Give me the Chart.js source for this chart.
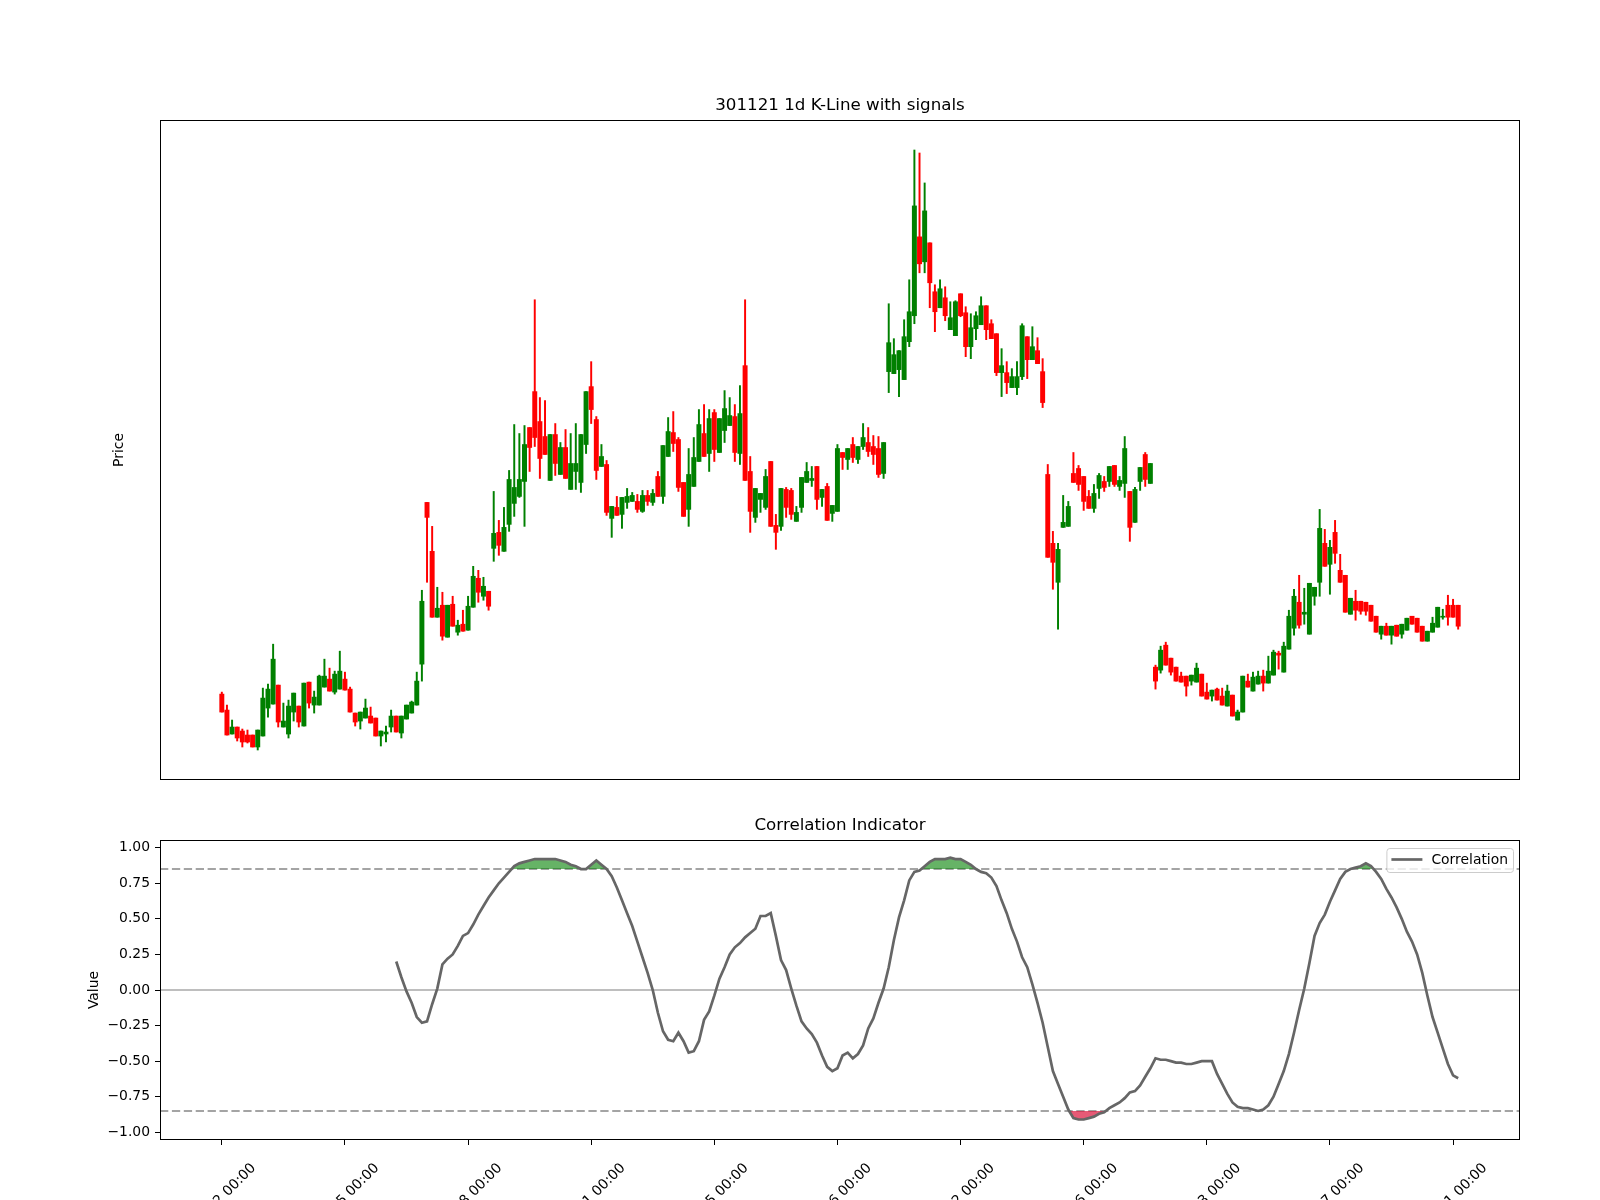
<!DOCTYPE html>
<html>
<head>
<meta charset="utf-8">
<script src="https://cdn.jsdelivr.net/npm/chart.js@4.4.1/dist/chart.umd.min.js"></script>
<style>
  html, body { margin: 0; padding: 0; background: #fff; }
  #wrap { position: relative; width: 1600px; height: 1200px; overflow: hidden; }
  canvas { position: absolute; left: 0; }
  #kline { top: 0; }
  #corr { top: 800px; }
</style>
</head>
<body>
<div id="wrap">
  <canvas id="kline" width="1600" height="800"></canvas>
  <canvas id="corr" width="1600" height="400"></canvas>
</div>
<script>
// daily OHLC (no price ticks are shown, so units are relative)
const opens = [
  10.5, 8.9, 6.5, 7.2, 6.8, 6.4, 6.4, 5.2, 6.3, 9.1,
  9.5, 11.4, 7.2, 6.5, 8.7, 9.3, 7.3, 11.7, 9.4, 9.4,
  11.2, 12.0, 10.7, 11.0, 12.0, 11.0, 8.6, 7.8, 8.1, 8.3,
  8.1, 6.3, 6.5, 7.2, 8.3, 6.6, 8.0, 8.6, 9.4, 13.5,
  29.7, 24.8, 18.2, 19.4, 16.2, 19.5, 16.7, 17.5, 16.9, 19.2,
  22.1, 20.3, 20.8, 25.1, 26.7, 24.8, 27.5, 29.6, 30.3, 31.8,
  37.2, 40.8, 37.8, 36.3, 31.9, 36.5, 32.5, 35.2, 31.0, 32.8,
  31.7, 35.5, 41.3, 38.0, 33.3, 33.5, 28.1, 29.2, 28.5, 29.7,
  29.8, 29.8, 28.8, 30.4, 29.7, 32.3, 30.3, 34.3, 36.7, 36.0,
  31.7, 29.0, 31.3, 33.8, 36.6, 34.6, 38.7, 34.7, 36.9, 37.4,
  38.3, 34.6, 43.4, 32.8, 28.2, 30.0, 29.2, 33.8, 27.4, 27.3,
  31.0, 30.9, 27.8, 29.2, 31.7, 31.9, 33.3, 30.2, 31.3, 28.6,
  28.8, 34.7, 34.0, 35.5, 34.0, 35.3, 35.7, 35.3, 35.1, 32.6,
  42.8, 42.6, 43.0, 42.0, 45.8, 48.4, 56.3, 53.8, 55.7, 50.8,
  49.2, 50.2, 47.0, 46.4, 50.6, 48.7, 45.3, 47.1, 47.5, 49.4,
  47.6, 46.6, 42.7, 42.7, 41.2, 41.2, 42.3, 46.3, 44.0, 44.9,
  42.8, 32.5, 25.6, 21.7, 27.2, 27.3, 32.6, 33.1, 32.3, 30.3,
  29.1, 31.1, 31.8, 31.8, 33.4, 31.3, 31.6, 30.8, 27.7, 31.8,
  34.5, 31.6, 13.2, 12.9, 15.4, 14.1, 13.2, 12.3, 12.3, 11.8,
  11.7, 12.5, 10.7, 10.3, 11.0, 10.3, 9.3, 10.4, 7.9, 8.7,
  11.8, 10.8, 11.5, 12.3, 11.6, 12.4, 14.6, 12.7, 15.0, 17.1,
  19.7, 18.5, 16.5, 20.3, 21.7, 25.6, 23.5, 26.7, 22.9, 22.4,
  18.5, 19.8, 19.8, 19.7, 19.4, 18.3, 16.5, 17.3, 16.4, 17.4,
  16.5, 16.9, 18.3, 18.1, 17.3, 15.8, 16.7, 17.2, 18.2, 19.4,
  19.4, 19.4
];
const highs = [
  10.7, 9.4, 7.9, 7.2, 7.0, 6.9, 6.4, 6.9, 11.1, 11.5,
  15.5, 11.4, 9.6, 9.9, 10.6, 9.3, 11.6, 11.7, 10.8, 12.4,
  14.0, 13.1, 12.8, 14.8, 12.7, 11.2, 8.6, 8.7, 10.0, 9.2,
  8.1, 6.8, 7.3, 8.9, 8.3, 8.3, 9.4, 9.8, 12.7, 20.9,
  29.7, 27.3, 21.2, 20.7, 19.4, 20.3, 17.9, 18.9, 20.3, 23.3,
  22.9, 22.2, 20.8, 30.8, 27.9, 29.2, 32.9, 37.5, 36.6, 37.4,
  37.2, 50.0, 40.2, 39.9, 36.5, 37.6, 35.7, 37.0, 36.6, 37.6,
  36.5, 40.8, 43.8, 38.3, 35.5, 33.9, 29.3, 30.3, 30.2, 31.1,
  30.7, 30.5, 30.9, 30.9, 31.0, 32.8, 35.4, 38.2, 38.8, 36.2,
  31.7, 35.1, 36.2, 39.0, 39.5, 39.0, 39.0, 38.1, 40.9, 40.2,
  39.5, 41.4, 50.0, 34.3, 31.1, 30.6, 33.0, 33.8, 28.5, 31.1,
  31.2, 31.1, 29.3, 32.2, 33.7, 33.3, 33.3, 31.0, 31.6, 29.4,
  35.5, 34.7, 35.1, 36.2, 35.3, 37.6, 37.2, 36.4, 36.3, 35.7,
  49.6, 46.1, 44.9, 48.0, 52.0, 65.0, 64.7, 61.7, 55.7, 51.5,
  52.0, 51.3, 49.8, 49.9, 50.6, 49.3, 48.6, 48.8, 50.3, 49.4,
  48.0, 46.6, 45.1, 43.8, 43.1, 43.8, 47.6, 46.3, 47.3, 46.2,
  44.1, 33.5, 26.8, 25.6, 30.4, 29.8, 34.7, 33.4, 32.3, 30.9,
  31.5, 32.6, 32.3, 33.3, 33.4, 32.3, 36.3, 30.8, 31.2, 33.2,
  34.7, 33.6, 13.4, 15.3, 15.7, 14.1, 13.2, 12.7, 12.3, 12.4,
  13.6, 12.5, 11.6, 10.9, 11.1, 11.1, 11.4, 10.4, 8.9, 12.3,
  12.5, 12.7, 12.8, 12.9, 14.3, 14.9, 14.8, 15.7, 18.9, 21.0,
  22.4, 21.1, 21.6, 21.2, 29.0, 27.0, 25.9, 27.9, 24.5, 22.4,
  20.1, 20.9, 19.8, 19.7, 19.4, 18.3, 17.3, 17.6, 17.3, 17.4,
  17.5, 18.1, 18.3, 18.1, 17.3, 16.8, 18.2, 19.2, 19.0, 20.4,
  20.0, 19.4
];
const lows = [
  8.7, 6.4, 6.5, 5.8, 5.2, 5.6, 5.2, 4.9, 6.3, 8.2,
  9.5, 7.2, 7.2, 6.1, 7.8, 7.2, 7.3, 9.1, 8.6, 9.4,
  11.2, 10.8, 10.5, 11.0, 10.9, 8.7, 7.3, 7.0, 8.1, 7.6,
  6.3, 5.3, 5.7, 6.7, 6.7, 6.1, 8.0, 8.6, 9.4, 11.8,
  21.7, 18.2, 18.2, 15.9, 16.2, 17.3, 16.4, 16.8, 16.9, 19.2,
  19.7, 19.9, 18.9, 23.8, 24.4, 24.8, 26.8, 28.3, 30.2, 27.3,
  32.8, 35.3, 32.1, 34.5, 31.9, 32.4, 32.5, 32.1, 31.0, 31.0,
  30.7, 34.6, 37.6, 32.0, 33.3, 28.4, 26.2, 28.4, 27.1, 29.1,
  29.8, 28.7, 28.7, 29.4, 29.4, 30.3, 29.6, 34.3, 34.8, 30.8,
  28.3, 27.3, 31.3, 33.8, 34.3, 32.8, 33.8, 34.7, 35.7, 37.4,
  33.8, 33.5, 31.9, 26.7, 27.7, 28.7, 29.0, 27.3, 25.0, 26.9,
  28.2, 28.0, 27.8, 28.7, 31.7, 31.3, 29.0, 29.3, 27.9, 27.8,
  28.8, 33.0, 33.0, 33.7, 33.6, 35.0, 34.3, 33.5, 32.2, 32.1,
  40.7, 42.6, 40.3, 42.0, 45.3, 47.6, 52.7, 52.7, 49.2, 46.8,
  49.2, 47.9, 47.0, 46.4, 48.3, 44.3, 44.1, 46.0, 47.5, 46.0,
  46.1, 42.4, 40.3, 40.6, 41.2, 40.5, 42.0, 42.1, 44.0, 43.6,
  39.2, 24.2, 21.0, 17.0, 27.2, 27.3, 31.7, 30.9, 28.9, 29.1,
  28.7, 30.1, 30.8, 31.3, 31.3, 30.9, 30.2, 25.8, 27.7, 30.9,
  31.3, 31.6, 11.0, 12.6, 13.4, 12.4, 11.8, 11.7, 10.3, 11.4,
  11.7, 10.3, 10.0, 9.8, 9.9, 9.4, 9.3, 8.3, 7.9, 8.7,
  11.2, 10.8, 11.5, 10.8, 11.6, 12.4, 13.0, 12.7, 15.0, 16.4,
  17.1, 17.5, 16.5, 19.4, 20.3, 23.3, 20.5, 23.6, 21.7, 18.7,
  18.5, 17.9, 18.5, 18.4, 17.8, 16.7, 16.0, 16.4, 15.5, 16.3,
  16.1, 16.9, 17.5, 16.7, 15.8, 15.8, 16.7, 17.2, 18.0, 17.4,
  18.2, 17.0
];
const closes = [
  8.7, 6.4, 7.2, 6.1, 5.7, 5.7, 5.2, 6.9, 10.1, 11.0,
  14.0, 7.7, 7.8, 9.3, 10.6, 7.7, 11.6, 9.6, 10.2, 12.3,
  12.3, 10.8, 12.5, 12.8, 10.9, 8.7, 7.7, 8.7, 9.1, 7.6,
  6.3, 6.8, 6.7, 8.3, 6.7, 8.3, 9.4, 9.7, 11.8, 19.8,
  28.2, 18.2, 19.1, 16.3, 19.4, 17.3, 17.4, 16.8, 19.3, 22.3,
  20.7, 21.3, 19.3, 26.6, 25.4, 27.2, 32.0, 31.2, 32.0, 35.5,
  35.2, 36.2, 34.1, 34.5, 36.5, 33.6, 35.2, 32.1, 33.6, 33.6,
  36.5, 40.8, 39.0, 32.9, 34.3, 28.7, 29.3, 28.4, 30.2, 30.3,
  30.4, 29.0, 30.4, 29.8, 30.6, 30.3, 35.4, 36.8, 35.6, 31.2,
  28.3, 32.5, 34.2, 37.5, 34.3, 38.1, 35.0, 38.1, 39.1, 38.4,
  34.7, 38.6, 31.9, 28.8, 31.1, 30.6, 32.3, 27.3, 26.7, 31.1,
  29.2, 28.5, 28.7, 32.2, 32.8, 32.1, 30.0, 31.0, 27.9, 29.4,
  35.1, 34.2, 35.1, 34.2, 35.3, 36.2, 34.8, 34.5, 32.5, 35.7,
  45.7, 44.5, 44.9, 46.3, 48.8, 59.4, 53.6, 58.9, 51.7, 48.8,
  51.1, 48.4, 48.2, 49.8, 48.4, 45.3, 47.2, 48.4, 49.4, 47.0,
  46.1, 42.7, 43.4, 41.7, 42.3, 42.3, 47.4, 44.0, 45.3, 43.6,
  39.7, 24.2, 23.7, 25.0, 27.7, 29.3, 31.7, 31.5, 29.8, 29.1,
  30.6, 32.4, 31.2, 33.3, 31.5, 31.9, 35.1, 27.2, 31.0, 33.2,
  32.0, 33.6, 11.8, 14.9, 13.4, 12.7, 11.8, 11.7, 11.3, 12.4,
  13.1, 10.3, 10.0, 10.9, 9.9, 9.4, 10.8, 8.3, 8.7, 12.3,
  11.2, 12.2, 12.3, 11.6, 12.8, 14.7, 14.4, 15.3, 18.3, 20.3,
  17.4, 18.7, 21.6, 21.2, 27.1, 23.3, 25.2, 24.6, 21.7, 18.7,
  20.1, 18.9, 18.8, 18.8, 17.8, 16.7, 17.3, 16.4, 17.3, 16.3,
  17.5, 18.1, 17.5, 16.7, 15.8, 16.8, 17.6, 19.2, 18.3, 18.2,
  18.2, 17.3
];

// correlation indicator, starts at bar 34
const corrStart = 34;
const corrValues = [
  0.20, 0.09, -0.01, -0.09, -0.19, -0.23, -0.22, -0.10, 0.01, 0.18,
  0.22, 0.25, 0.31, 0.38, 0.40, 0.46, 0.53, 0.59, 0.65, 0.70,
  0.75, 0.79, 0.83, 0.87, 0.89, 0.90, 0.91, 0.92, 0.92, 0.92,
  0.92, 0.92, 0.91, 0.90, 0.88, 0.87, 0.85, 0.85, 0.88, 0.91,
  0.88, 0.85, 0.80, 0.72, 0.63, 0.54, 0.45, 0.34, 0.23, 0.12,
  0.00, -0.16, -0.29, -0.35, -0.36, -0.30, -0.36, -0.44, -0.43, -0.36,
  -0.21, -0.15, -0.04, 0.08, 0.16, 0.25, 0.30, 0.33, 0.37, 0.40,
  0.43, 0.52, 0.52, 0.54, 0.38, 0.21, 0.14, 0.01, -0.11, -0.22,
  -0.27, -0.31, -0.37, -0.46, -0.54, -0.57, -0.55, -0.46, -0.44, -0.48,
  -0.45, -0.39, -0.27, -0.20, -0.09, 0.01, 0.16, 0.35, 0.51, 0.63,
  0.77, 0.83, 0.84, 0.87, 0.90, 0.92, 0.92, 0.92, 0.93, 0.92,
  0.92, 0.90, 0.88, 0.85, 0.83, 0.82, 0.79, 0.73, 0.63, 0.54,
  0.43, 0.34, 0.23, 0.16, 0.04, -0.09, -0.23, -0.40, -0.57, -0.66,
  -0.75, -0.84, -0.90, -0.91, -0.91, -0.90, -0.89, -0.87, -0.86, -0.83,
  -0.81, -0.79, -0.76, -0.72, -0.71, -0.67, -0.61, -0.55, -0.48, -0.49,
  -0.49, -0.50, -0.51, -0.51, -0.52, -0.52, -0.51, -0.50, -0.50, -0.50,
  -0.59, -0.66, -0.73, -0.79, -0.82, -0.83, -0.83, -0.84, -0.85, -0.84,
  -0.81, -0.75, -0.66, -0.57, -0.45, -0.30, -0.14, 0.01, 0.19, 0.38,
  0.47, 0.53, 0.62, 0.70, 0.78, 0.83, 0.85, 0.86, 0.87, 0.89,
  0.87, 0.83, 0.78, 0.71, 0.65, 0.58, 0.50, 0.41, 0.34, 0.25,
  0.12, -0.04, -0.19, -0.30, -0.41, -0.52, -0.60, -0.62
];
const upperLevel = 0.85;
const lowerLevel = -0.85;

// x ticks every 24 bars, labels are date strings
const tickBars = [0, 24, 48, 72, 96, 120, 144, 168, 192, 216, 240];
const tickLabels = ['08-22 00:00', '09-25 00:00', '11-08 00:00', '12-11 00:00', '01-15 00:00', '02-26 00:00',
                    '04-02 00:00', '05-16 00:00', '06-13 00:00', '07-17 00:00', '08-21 00:00'];
const corrTicks = [-1, -0.75, -0.5, -0.25, 0, 0.25, 0.5, 0.75, 1];

Chart.defaults.font.family = "'DejaVu Sans', sans-serif";
Chart.defaults.color = '#000';

const nBars = opens.length;
const xMin = -0.05 * (nBars - 1);
const xMax = (nBars - 1) * 1.05;
const pLo = Math.min(...lows), pHi = Math.max(...highs);
const pPad = (pHi - pLo) * 0.05;

const bars = opens.map((_, i) => i);
const candleColor = ctx => closes[ctx.dataIndex] >= opens[ctx.dataIndex] ? '#008000' : '#ff0000';

// box round the plot area, like matplotlib spines
const framePlugin = {
  id: 'frame',
  afterDatasetsDraw(chart) {
    const {ctx, chartArea: a} = chart;
    ctx.save();
    ctx.strokeStyle = '#000';
    ctx.lineWidth = 1;
    ctx.strokeRect(a.left + 0.5, a.top + 0.5, a.width - 1, a.height - 1);
    ctx.restore();
  }
};

// axes title centred over the plot area (chart.js centres over the whole canvas)
const axTitlePlugin = {
  id: 'axTitle',
  afterDraw(chart, args, opts) {
    const {ctx, chartArea: a} = chart;
    ctx.save();
    ctx.fillStyle = '#000';
    ctx.font = "16.7px 'DejaVu Sans'";
    ctx.textAlign = 'center';
    ctx.textBaseline = 'middle';
    ctx.fillText(opts.text, (a.left + a.right) / 2, a.top - 14.5);
    ctx.restore();
  }
};

new Chart(document.getElementById('kline'), {
  type: 'bar',
  data: {
    datasets: [
      {
        label: 'wick',
        data: bars.map(i => ({x: i, y: [lows[i], highs[i]]})),
        backgroundColor: candleColor,
        barThickness: 1.3,
        grouped: false,
        order: 2
      },
      {
        label: 'body',
        data: bars.map(i => ({x: i, y: [opens[i], closes[i]]})),
        backgroundColor: candleColor,
        barThickness: 4.3,
        minBarLength: 1,
        grouped: false,
        order: 1
      }
    ]
  },
  options: {
    responsive: false,
    animation: false,
    layout: { padding: { left: 0, right: 80, top: 120, bottom: 20 } },
    plugins: {
      legend: { display: false },
      tooltip: { enabled: false },
      title: { display: false },
      axTitle: { text: '301121 1d K-Line with signals' }
    },
    scales: {
      x: { type: 'linear', min: xMin, max: xMax, offset: false, display: false },
      y: {
        min: pLo - pPad,
        max: pHi + pPad,
        ticks: { display: false },
        grid: { display: false },
        border: { display: false },
        title: { display: true, text: 'Price', font: { size: 13.9 }, color: '#000', padding: { top: 111, bottom: 0 } },
        afterFit: s => { s.width = 160; }
      }
    }
  },
  plugins: [framePlugin, axTitlePlugin]
});

// horizontal reference lines for the indicator
const refLinePlugin = {
  id: 'refLines',
  beforeDatasetsDraw(chart) {
    const {ctx, chartArea: a, scales: {y}} = chart;
    ctx.save();
    ctx.lineWidth = 1.5;
    ctx.strokeStyle = '#a8a8a8';
    const y0 = y.getPixelForValue(0);
    ctx.beginPath(); ctx.moveTo(a.left, y0); ctx.lineTo(a.right, y0); ctx.stroke();
    ctx.strokeStyle = '#878787';
    ctx.setLineDash([8.3, 3.6]);
    [upperLevel, lowerLevel].forEach(v => {
      const py = y.getPixelForValue(v);
      ctx.beginPath(); ctx.moveTo(a.left, py); ctx.lineTo(a.right, py); ctx.stroke();
    });
    ctx.restore();
  }
};

// rotated date labels under the lower panel, centred on the tick like matplotlib
const xLabelPlugin = {
  id: 'xLabels',
  afterDraw(chart) {
    const {ctx, chartArea: a, scales: {x}} = chart;
    ctx.save();
    ctx.fillStyle = '#000';
    ctx.font = "13.9px 'DejaVu Sans'";
    ctx.textAlign = 'right';
    ctx.textBaseline = 'top';
    tickBars.forEach((v, k) => {
      const px = x.getPixelForValue(v);
      ctx.save();
      ctx.translate(px + 27, a.bottom + 21);
      ctx.rotate(-Math.PI / 4);
      ctx.fillText(tickLabels[k], 0, 0);
      ctx.restore();
    });
    ctx.restore();
  }
};

// legend box in the upper right corner
const legendPlugin = {
  id: 'legendBox',
  afterDraw(chart) {
    const {ctx, chartArea: a} = chart;
    const label = chart.data.datasets[0].label;
    ctx.save();
    ctx.font = "13.9px 'DejaVu Sans'";
    const tw = ctx.measureText(label).width;
    const w = tw + 50, h = 24;
    const right = a.right - 7, top = a.top + 8;
    const left = right - w;
    ctx.beginPath();
    ctx.roundRect(left + 0.5, top + 0.5, w, h, 3);
    ctx.fillStyle = 'rgba(255,255,255,0.8)';
    ctx.fill();
    ctx.strokeStyle = '#cccccc';
    ctx.lineWidth = 1;
    ctx.stroke();
    ctx.strokeStyle = '#666666';
    ctx.lineWidth = 2.7;
    ctx.beginPath();
    ctx.moveTo(left + 5, top + 11.5);
    ctx.lineTo(left + 36, top + 11.5);
    ctx.stroke();
    ctx.fillStyle = '#000';
    ctx.textAlign = 'left';
    ctx.textBaseline = 'middle';
    ctx.fillText(label, left + 45, top + 12.5);
    ctx.restore();
  }
};

const corrPoints = corrValues.map((v, k) => ({x: corrStart + k, y: v}));

new Chart(document.getElementById('corr'), {
  type: 'line',
  data: {
    datasets: [
      {
        label: 'Correlation',
        data: corrPoints,
        borderColor: '#666666',
        borderWidth: 2.7,
        pointRadius: 0,
        tension: 0,
        fill: { target: { value: upperLevel }, above: 'rgba(0,128,0,0.6)', below: 'rgba(0,0,0,0)' },
        order: 1
      },
      {
        label: 'low',
        data: corrPoints,
        borderWidth: 0,
        borderColor: 'rgba(0,0,0,0)',
        pointRadius: 0,
        tension: 0,
        fill: { target: { value: lowerLevel }, above: 'rgba(0,0,0,0)', below: 'rgba(220,20,60,0.7)' },
        order: 2
      }
    ]
  },
  options: {
    responsive: false,
    animation: false,
    layout: { padding: { left: 0, right: 80, top: 40, bottom: 0 } },
    plugins: {
      legend: { display: false },
      tooltip: { enabled: false },
      title: { display: false },
      axTitle: { text: 'Correlation Indicator' }
    },
    scales: {
      x: {
        type: 'linear',
        min: xMin,
        max: xMax,
        offset: false,
        afterBuildTicks: s => { s.ticks = tickBars.map(v => ({value: v})); },
        ticks: { autoSkip: false, maxRotation: 0, callback: () => '' },
        grid: { drawOnChartArea: false, drawTicks: true, tickLength: 5, color: '#000', offset: false },
        border: { display: false },
        afterFit: s => { s.height = 60; }
      },
      y: {
        min: -1.054,
        max: 1.054,
        afterBuildTicks: s => { s.ticks = corrTicks.map(v => ({value: v})); },
        ticks: {
          autoSkip: false,
          padding: 5,
          font: { size: 13.9 },
          color: '#000',
          callback: v => (v < 0 ? '\u2212' + Math.abs(v).toFixed(2) : v.toFixed(2))
        },
        grid: { drawOnChartArea: false, drawTicks: true, tickLength: 5, color: '#000' },
        border: { display: false },
        title: { display: true, text: 'Value', font: { size: 13.9 }, color: '#000', padding: { top: 85.7, bottom: 0 } },
        afterFit: s => { s.width = 160; }
      }
    }
  },
  plugins: [refLinePlugin, framePlugin, xLabelPlugin, legendPlugin, axTitlePlugin]
});
</script>
</body>
</html>
